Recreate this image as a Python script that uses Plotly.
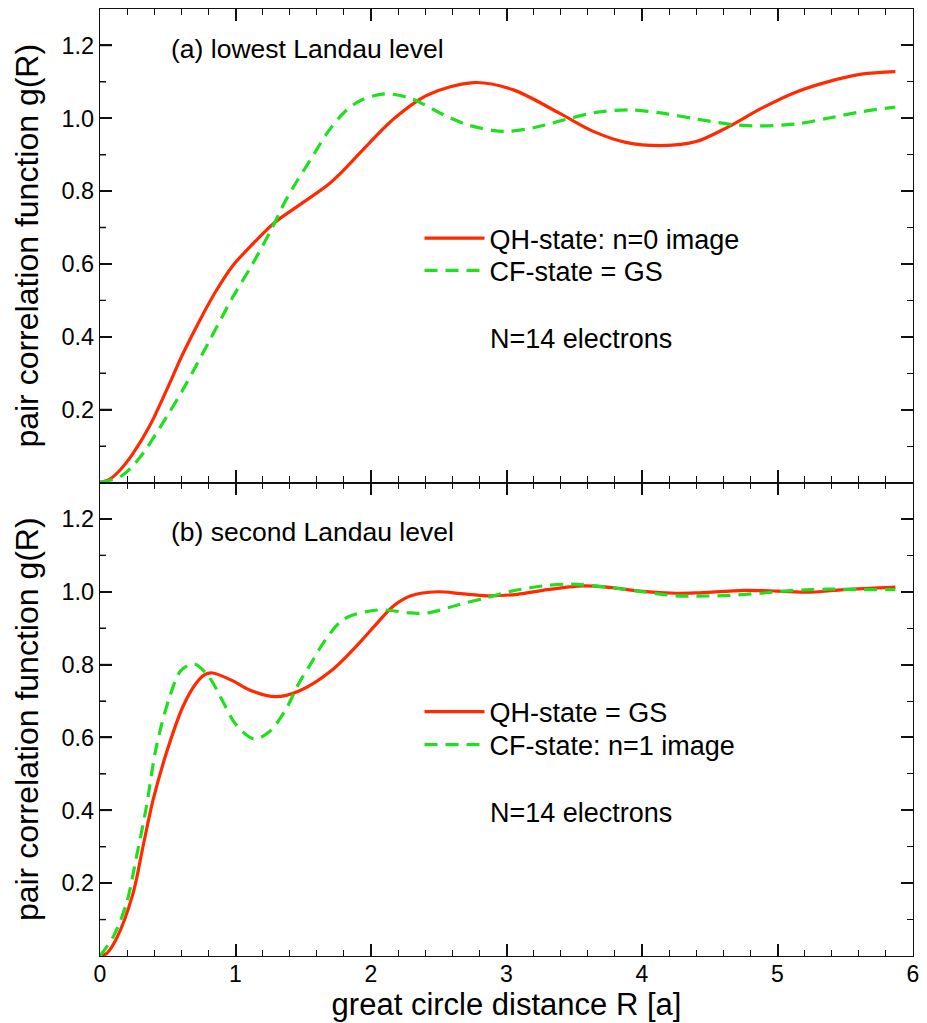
import plotly.graph_objects as go
from plotly.subplots import make_subplots

# ---- data ----
# (a) lowest Landau level
r_a_qh = [0, 0.073, 0.15, 0.244, 0.366, 0.488, 0.61, 0.733, 0.855, 0.977, 1.099, 1.294, 1.465,
          1.685, 1.8, 1.929, 2.173, 2.418, 2.76, 3.05, 3.39, 3.64, 3.88, 4.15, 4.40, 4.64, 4.88,
          5.13, 5.37, 5.62, 5.87]
g_a_qh = [0, 0.009, 0.035, 0.08, 0.155, 0.251, 0.352, 0.443, 0.525, 0.594, 0.644, 0.715, 0.76,
          0.818, 0.858, 0.909, 1.0, 1.064, 1.098, 1.078, 1.014, 0.964, 0.934, 0.925, 0.936, 0.977,
          1.027, 1.071, 1.10, 1.121, 1.128]

r_a_cf = [0, 0.159, 0.293, 0.488, 0.635, 0.806, 0.977, 1.123, 1.27, 1.367, 1.453, 1.55, 1.685,
          1.807, 1.93, 2.10, 2.29, 2.54, 2.73, 2.98, 3.2, 3.44, 3.66, 3.91, 4.15, 4.40, 4.64,
          4.83, 5.13, 5.37, 5.62, 5.87]
g_a_cf = [0, 0.018, 0.068, 0.178, 0.27, 0.388, 0.507, 0.598, 0.699, 0.772, 0.827, 0.884, 0.964,
          1.018, 1.05, 1.067, 1.055, 1.009, 0.98, 0.964, 0.974, 0.997, 1.016, 1.023, 1.014,
          0.998, 0.984, 0.979, 0.984, 1.0, 1.018, 1.031]

# (b) second Landau level
r_b_qh = [0, 0.049, 0.122, 0.244, 0.317, 0.391, 0.488, 0.61, 0.708, 0.77, 0.83, 0.977, 1.099,
          1.294, 1.465, 1.709, 1.93, 2.05, 2.17, 2.295, 2.49, 2.66, 2.857, 3.08, 3.27, 3.565,
          3.76, 4.004, 4.25, 4.40, 4.76, 5.0, 5.25, 5.49, 5.87]
g_b_qh = [0, 0.007, 0.048, 0.172, 0.30, 0.427, 0.555, 0.683, 0.748, 0.772, 0.777, 0.756, 0.731,
          0.712, 0.727, 0.784, 0.866, 0.916, 0.962, 0.989, 1.0, 0.995, 0.989, 0.993, 1.004, 1.016,
          1.012, 1.001, 0.996, 0.997, 1.004, 1.002, 0.999, 1.006, 1.013]

r_b_cf = [0, 0.098, 0.195, 0.269, 0.342, 0.415, 0.513, 0.598, 0.696, 0.806, 0.904, 1.0, 1.136,
          1.245, 1.367, 1.465, 1.563, 1.66, 1.8, 2.05, 2.295, 2.42, 2.66, 2.857, 3.03, 3.27,
          3.47, 3.76, 4.004, 4.25, 4.40, 4.64, 4.88, 5.13, 5.37, 5.61, 5.87]
g_b_cf = [0, 0.053, 0.144, 0.272, 0.409, 0.573, 0.71, 0.784, 0.802, 0.765, 0.701, 0.637, 0.596,
          0.614, 0.674, 0.747, 0.807, 0.866, 0.925, 0.95, 0.942, 0.942, 0.966, 0.984, 1.001,
          1.016, 1.021, 1.012, 1.0, 0.989, 0.988, 0.99, 0.996, 1.004, 1.007, 1.006, 1.006]

y_ticks = [0.2, 0.4, 0.6, 0.8, 1.0, 1.2]
y_minor_ticks = [0.1, 0.3, 0.5, 0.7, 0.9, 1.1]
x_ticks = [0, 1, 2, 3, 4, 5, 6]

names_a = ["QH-state: n=0 image", "CF-state = GS"]
names_b = ["QH-state = GS", "CF-state: n=1 image"]
panel_labels = ["(a) lowest Landau level", "(b) second Landau level"]
note = "N=14 electrons"

RED = "#FF2A00"
GREEN = "#1EE01E"
FONT = "Liberation Sans, Arial, Helvetica, sans-serif"
DASH = "13px,8px"
AX = "#111111"
PLOT_W = 927 - 100 - 8   # plot-area width in px (used to size the left tick marks)

fig = make_subplots(rows=2, cols=1, shared_xaxes=True, vertical_spacing=0)

def curve(x, y, name, color, dash, legend):
    return go.Scatter(x=x, y=y, mode="lines", name=name, legend=legend, showlegend=True,
                      line=dict(color=color, width=3.2, dash=dash, shape="spline", smoothing=0.9))

fig.add_trace(curve(r_a_qh, g_a_qh, names_a[0], RED, "solid", "legend"), row=1, col=1)
fig.add_trace(curve(r_a_cf, g_a_cf, names_a[1], GREEN, DASH, "legend2"), row=1, col=1)
fig.add_trace(curve(r_b_qh, g_b_qh, names_b[0], RED, "solid", "legend3"), row=2, col=1)
fig.add_trace(curve(r_b_cf, g_b_cf, names_b[1], GREEN, DASH, "legend4"), row=2, col=1)

xcommon = dict(range=[0, 6], tickvals=x_ticks, ticks="inside", ticklen=12, tickwidth=1.5,
               tickcolor=AX, showline=True, linecolor=AX, linewidth=1.2,
               mirror="ticks", showgrid=False, zeroline=False, layer="above traces",
               minor=dict(ticks="inside", dtick=0.2, tick0=0, ticklen=6, tickwidth=1.3,
                          tickcolor=AX, showgrid=False),
               tickfont=dict(size=23, family=FONT, color="black"))
ycommon = dict(range=[0, 1.3], tickvals=y_ticks, tickformat=".1f", ticks="inside", ticklen=12,
               tickwidth=1.5, tickcolor=AX, showline=True, linecolor=AX, linewidth=1.2,
               mirror="ticks", showgrid=False, zeroline=False, layer="above traces",
               minor=dict(ticks="inside", dtick=0.1, tick0=0, ticklen=6, tickwidth=1.3,
                          tickcolor=AX, showgrid=False),
               tickfont=dict(size=23.5, family=FONT, color="black"),
               title=dict(text="pair correlation function g(R)", standoff=13,
                          font=dict(size=32, family=FONT, color="black")))

fig.update_xaxes(**xcommon)
fig.update_xaxes(showticklabels=False, row=1, col=1)
fig.update_xaxes(ticklabelstandoff=-3,
                 title=dict(text="great circle distance R [a]", standoff=4,
                            font=dict(size=31, family=FONT, color="black")), row=2, col=1)
fig.update_yaxes(**ycommon)

# left-hand inward tick marks, placed on the y scale of each panel
for xr, yr in [("x domain", "y"), ("x2 domain", "y2")]:
    for vals, length, width in [(y_ticks, 12, 1.6), (y_minor_ticks, 6, 1.4)]:
        for v in vals:
            fig.add_shape(type="line", xref=xr, yref=yr, x0=0, x1=length / PLOT_W,
                          y0=v, y1=v, layer="above", line=dict(color=AX, width=width))

legend_style = dict(font=dict(size=27, family=FONT, color="black"), bgcolor="rgba(0,0,0,0)",
                    xanchor="left", yanchor="top", itemwidth=60, tracegroupgap=0)
fig.update_layout(
    showlegend=True,
    legend=dict(x=0.393, y=0.7835, **legend_style),
    legend2=dict(x=0.393, y=0.7493, **legend_style),
    legend3=dict(x=0.393, y=0.2835, **legend_style),
    legend4=dict(x=0.393, y=0.2487, **legend_style),
)

ann_font = dict(size=26.5, family=FONT, color="black")
note_font = dict(size=27, family=FONT, color="black")
fig.add_annotation(text=panel_labels[0], xref="x domain", yref="y domain", x=0.085, y=0.915,
                   xanchor="left", yanchor="middle", showarrow=False, font=ann_font)
fig.add_annotation(text=panel_labels[1], xref="x2 domain", yref="y2 domain", x=0.085, y=0.895,
                   xanchor="left", yanchor="middle", showarrow=False, font=ann_font)
fig.add_annotation(text=note, xref="x domain", yref="y domain", x=0.477, y=0.303,
                   xanchor="left", yanchor="middle", showarrow=False, font=note_font)
fig.add_annotation(text=note, xref="x2 domain", yref="y2 domain", x=0.477, y=0.303,
                   xanchor="left", yanchor="middle", showarrow=False, font=note_font)

fig.update_layout(width=927, height=1023, margin=dict(l=100, r=8, t=8, b=67),
                  plot_bgcolor="white", paper_bgcolor="white",
                  font=dict(family=FONT, color="black"))

fig.write_html("out.html")
